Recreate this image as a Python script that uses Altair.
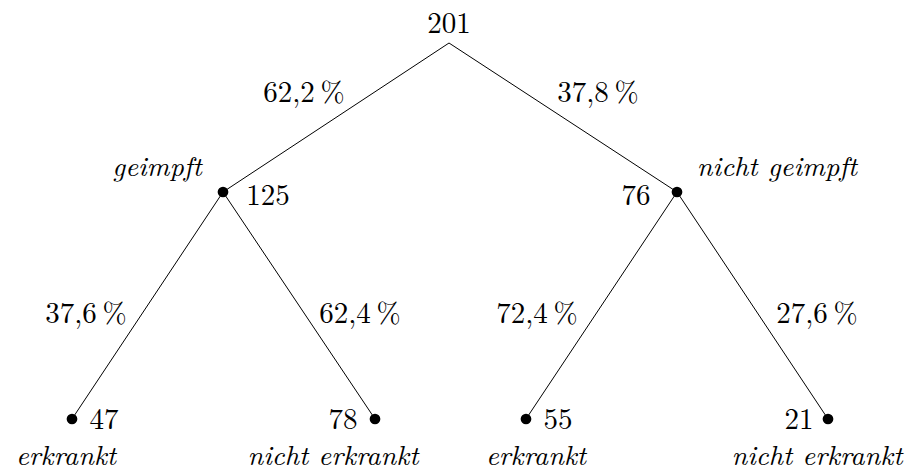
import altair as alt
import pandas as pd

# --- values ---
counts = [201, 125, 76, 47, 78, 55, 21]
shares = ["62,2", "37,8", "37,6", "62,4", "72,4", "27,6"]
group_names = ["geimpft", "nicht geimpft"]
leaf_names = ["erkrankt", "nicht erkrankt", "erkrankt", "nicht erkrankt"]

# --- layout (tree node positions in page units) ---
node_x = [449, 223, 677, 72, 375, 526, 828]
node_y = [43, 192, 192, 419, 419, 419, 419]
edges = [(0, 1), (0, 2), (1, 3), (1, 4), (2, 5), (2, 6)]

count_pos = [(449, 33), (268, 205), (636, 205), (104, 429), (343, 429), (558, 429), (799, 429)]
share_pos = [(304, 102), (598, 102), (86, 323), (360, 323), (537, 323), (817, 323)]
group_pos = [(157, 176), (777, 176)]
leaf_pos = [(66, 465), (333, 465), (536, 465), (817, 465)]

edge_df = pd.DataFrame({
    "x": [node_x[a] for a, b in edges],
    "y": [node_y[a] for a, b in edges],
    "x2": [node_x[b] for a, b in edges],
    "y2": [node_y[b] for a, b in edges],
})
dot_df = pd.DataFrame({"x": node_x[1:], "y": node_y[1:]})

normal_df = pd.DataFrame({
    "t": [str(c) for c in counts] + [s + "\u2009%" for s in shares],
    "x": [p[0] for p in count_pos] + [p[0] for p in share_pos],
    "y": [p[1] for p in count_pos] + [p[1] for p in share_pos],
})
italic_df = pd.DataFrame({
    "t": group_names + leaf_names,
    "x": [p[0] for p in group_pos] + [p[0] for p in leaf_pos],
    "y": [p[1] for p in group_pos] + [p[1] for p in leaf_pos],
})

W, H = 901, 464
xs = alt.Scale(domain=[8, 8 + W], nice=False, zero=False)
ys = alt.Scale(domain=[8, 8 + H], nice=False, zero=False, reverse=True)
X = alt.X("x:Q", scale=xs, axis=None)
Y = alt.Y("y:Q", scale=ys, axis=None)

font = "Latin Modern Roman"

lines = alt.Chart(edge_df).mark_rule(color="black", strokeWidth=1).encode(
    x=X, y=Y, x2="x2:Q", y2="y2:Q")
dots = alt.Chart(dot_df).mark_circle(color="black", size=115, opacity=1).encode(x=X, y=Y)
normal = alt.Chart(normal_df).mark_text(
    font=font, fontSize=29, color="black", baseline="alphabetic", align="center"
).encode(x=X, y=Y, text="t:N")
italic = alt.Chart(italic_df).mark_text(
    font=font, fontSize=28, fontStyle="italic", color="black", baseline="alphabetic", align="center"
).encode(x=X, y=Y, text="t:N")

chart = alt.layer(lines, dots, normal, italic).properties(
    width=W, height=H, padding=0, autosize=alt.AutoSizeParams(type="none")
).configure_view(stroke=None)

chart.save("out.html", embed_options={"renderer": "svg", "actions": False})
